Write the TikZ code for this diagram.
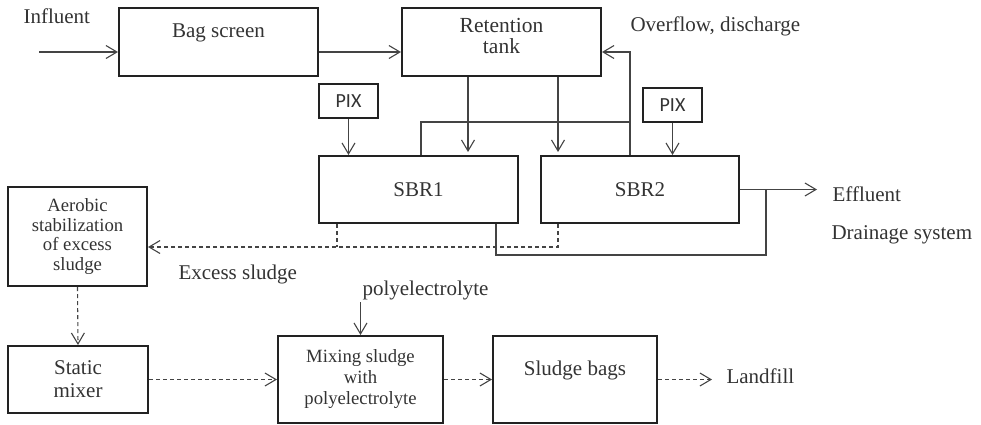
\documentclass[tikz,border=0pt]{standalone}
\usepackage{fontspec}
\setmainfont{Liberation Serif}
\newfontfamily\pixfont{Carlito}
\usetikzlibrary{arrows,arrows.meta,positioning}
\definecolor{boxgray}{HTML}{222222}
\definecolor{linegray}{HTML}{444444}
\definecolor{txtgray}{HTML}{333333}

\begin{document}
\begin{tikzpicture}[x=1pt,y=-1pt,->,>={Straight Barb[length=11pt,width=13pt]},line width=1.1pt,color=linegray,
  font=\fontsize{21}{23}\selectfont]
\tikzstyle{box}=[draw=boxgray,line width=2pt,align=center,inner sep=0pt,text=txtgray]
\tikzstyle{smallbox}=[box,font=\fontsize{18.7}{21}\selectfont]
\tikzstyle{pixbox}=[box,font=\pixfont\fontsize{20}{22}\selectfont]
\tikzstyle{lbl}=[anchor=west,inner sep=0pt,text=txtgray]
\tikzstyle{sludge}=[dash pattern=on 4pt off 3pt]

\useasboundingbox (0,0) rectangle (981,424);

% boxes
\node[box,minimum width=199pt,minimum height=68pt] (bag) at (218.5,42) {Bag screen\\\mbox{}};
\node[box,minimum width=199pt,minimum height=68pt,font=\fontsize{21.5}{21}\selectfont] (ret) at (501.5,42) {Retention\\tank\\[-9pt]\mbox{}};
\node[pixbox,minimum width=59pt,minimum height=34pt] (pix1) at (348.5,101) {PIX};
\node[pixbox,minimum width=59pt,minimum height=34pt] (pix2) at (672.5,105) {PIX};
\node[box,minimum width=199pt,minimum height=67pt] (sbr1) at (418.5,189.5) {SBR1};
\node[box,minimum width=198pt,minimum height=67pt] (sbr2) at (640,189.5) {SBR2};
\node[smallbox,minimum width=139pt,minimum height=99pt,font=\fontsize{18.7}{19.5}\selectfont] (aer) at (77.5,236.5) {Aerobic\\stabilization\\of excess\\sludge};
\node[box,minimum width=140pt,minimum height=67pt] (stat) at (78,379.5) {Static\\mixer};
\node[smallbox,minimum width=165pt,minimum height=87pt] (mix) at (360.5,379.5) {Mixing sludge\\with\\polyelectrolyte};
\node[box,minimum width=164pt,minimum height=87pt] (bags) at (575,379.5) {Sludge bags\\\mbox{}};

% labels
\node[lbl] (inflbl) at (23,16) {Influent};
\node[lbl] (ovflbl) at (630,26) {Overflow, discharge};
\node[lbl] (efflbl) at (832,194) {Effluent};
\node[lbl] (drnlbl) at (831,235) {Drainage system};
\node[lbl] (exslbl) at (178,274) {Excess sludge};
\node[lbl] (polylbl) at (362,290) {polyelectrolyte};
\node[lbl] (landlbl) at (726,376) {Landfill};

% free ends and bends
\coordinate (inf) at (39,52);
\coordinate (rt1) at (468,156);
\coordinate (rt2) at (558,156);
\coordinate (ovf) at (630,122);
\coordinate (eff) at (817,189.5);
\coordinate (drn1) at (496,255);
\coordinate (drn2) at (766,255);
\coordinate (ex1) at (337,247);
\coordinate (ex2) at (558,247);
\coordinate (poly) at (360.5,302);
\coordinate (land) at (712,379.5);

\path
(inf) edge (inf -| bag.west)
(bag.east |- inf) edge (ret.west |- inf)
(ret.south -| rt1) edge [shorten >=4pt] (rt1)
(ret.south -| rt2) edge [shorten >=4pt] (rt2)
(pix1) edge (pix1 |- sbr1.north)
(pix2) edge (pix2 |- sbr2.north)
(sbr2.east) edge (eff)
(poly) edge (poly |- mix.north)
;

\draw (ovf |- sbr2.north) |- (ret.east |- inf);
\draw[-] ([xshift=2.5pt]sbr1.north) |- (ovf);
\draw[-] (drn1 |- sbr1.south) |- (drn2) -- (drn2 |- eff);

\draw[sludge] (ex2 |- sbr2.south) |- (aer.east |- ex2);
\draw[sludge,-] (ex1 |- sbr1.south) -- (ex1);
\path[sludge]
(aer.south) edge (stat.north)
(stat) edge (mix)
(mix) edge (bags)
(bags) edge (land)
;
\end{tikzpicture}
\end{document}
